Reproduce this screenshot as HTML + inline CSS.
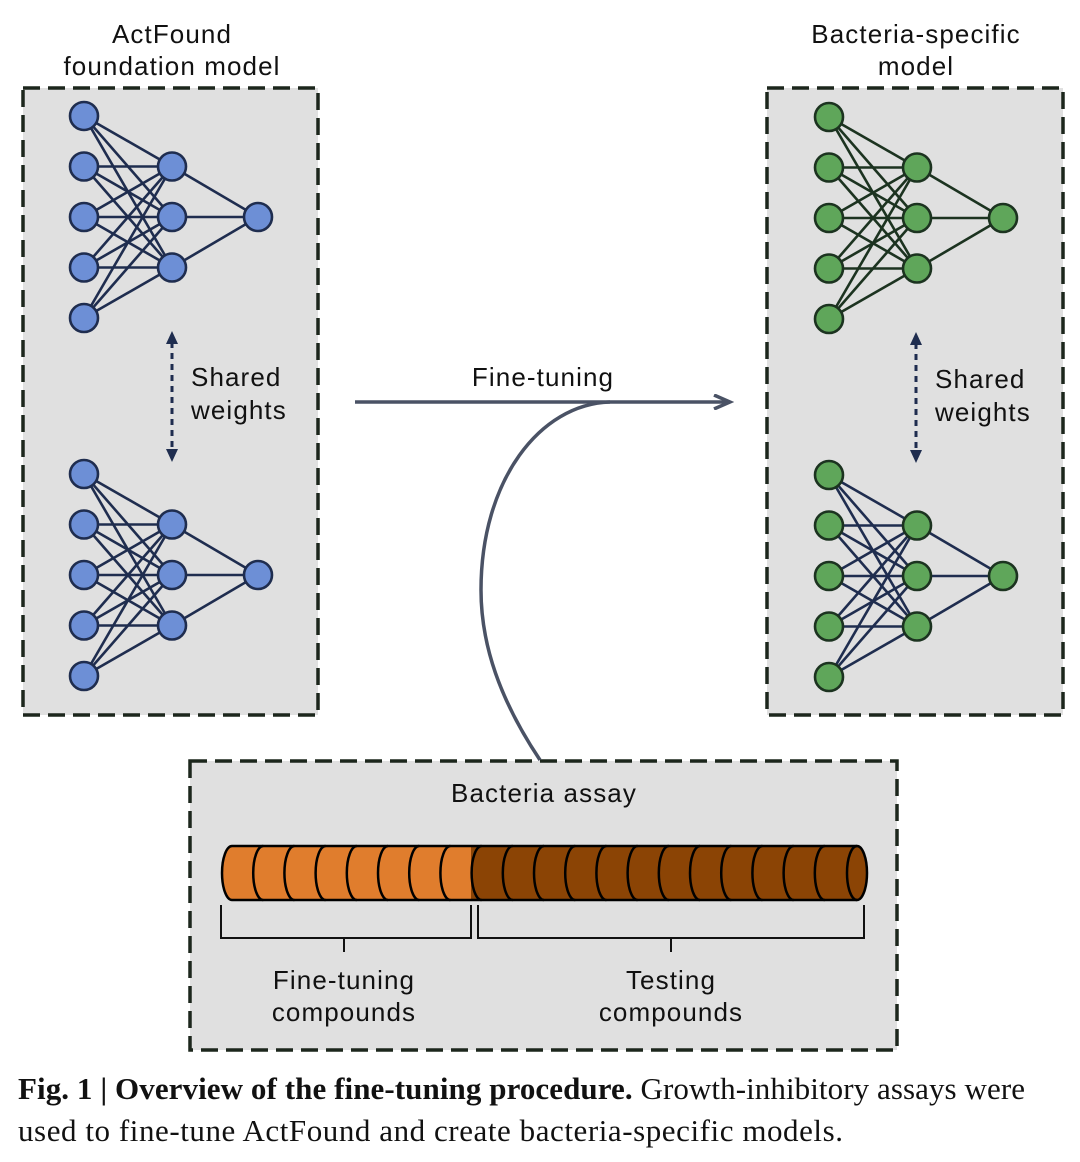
<!DOCTYPE html>
<html><head><meta charset="utf-8"><style>
html,body{margin:0;padding:0;background:#fff;width:1080px;height:1162px;overflow:hidden}
svg{display:block}
.t{font-family:"Liberation Sans",sans-serif;font-size:26px;fill:#111;letter-spacing:1.1px}
.c{font-family:"Liberation Serif",serif;font-size:31px;fill:#111}
</style></head><body>
<svg id="s" width="1080" height="1162" viewBox="0 0 1080 1162" xmlns="http://www.w3.org/2000/svg">
<defs>
<marker id="ah" markerWidth="22" markerHeight="16" refX="18" refY="8" orient="auto" markerUnits="userSpaceOnUse"><path d="M2,1 L18,8 L2,15" fill="none" stroke="#4a5265" stroke-width="3.5"/></marker>
</defs>
<g fill="#e0e0e0" stroke="#1c261c" stroke-width="3.5" stroke-dasharray="17 8">
<rect x="23" y="88" width="295" height="627"/>
<rect x="767" y="88" width="296" height="627"/>
<rect x="190" y="761" width="707" height="289"/>
</g>
<text class="t" x="172" y="43" text-anchor="middle">ActFound</text>
<text class="t" x="172" y="75" text-anchor="middle">foundation model</text>
<text class="t" x="916" y="43" text-anchor="middle">Bacteria-specific</text>
<text class="t" x="916" y="75" text-anchor="middle">model</text>
<g id="nets"></g>
<g stroke="#1f2d4f" stroke-width="3" stroke-dasharray="6 5">
<line x1="172" y1="342" x2="172" y2="452"/>
<line x1="916" y1="343" x2="916" y2="453"/>
</g>
<g fill="#1f2d4f">
<path d="M172,331 l-6,13 h12z"/><path d="M172,462 l-6,-13 h12z"/>
<path d="M916,332 l-6,13 h12z"/><path d="M916,463 l-6,-13 h12z"/>
</g>
<text class="t" x="191" y="386">Shared</text>
<text class="t" x="191" y="419">weights</text>
<text class="t" x="935" y="388">Shared</text>
<text class="t" x="935" y="421">weights</text>
<text class="t" x="543" y="386" text-anchor="middle">Fine-tuning</text>
<line x1="355" y1="402" x2="730" y2="402" stroke="#4a5265" stroke-width="3.5" marker-end="url(#ah)"/>
<path d="M540,760 C500,700 481,645 481,590 C481,480 540,404 610,402" fill="none" stroke="#4a5265" stroke-width="3.5"/>
<text class="t" x="544" y="802" text-anchor="middle">Bacteria assay</text>
<path d="M232,846 H471 V900 H232 A10 27 0 0 1 232,846 Z" fill="#e07d2d"/>
<rect x="471" y="846" width="386" height="54" fill="#8b4405"/>
<ellipse cx="857" cy="873" rx="10" ry="27" fill="#8b4405"/>
<g id="cyl" fill="none" stroke="#000" stroke-width="2.5"></g>
<g fill="none" stroke="#111" stroke-width="2">
<path d="M221,905 V938 H471 V905 M344,938 V952"/>
<path d="M478,905 V938 H864 V905 M671,938 V952"/>
</g>
<text class="t" x="344" y="989" text-anchor="middle">Fine-tuning</text>
<text class="t" x="344" y="1021" text-anchor="middle">compounds</text>
<text class="t" x="671" y="989" text-anchor="middle">Testing</text>
<text class="t" x="671" y="1021" text-anchor="middle">compounds</text>
<text class="c" x="18" y="1099" textLength="1007" lengthAdjust="spacing"><tspan font-weight="bold">Fig. 1 | Overview of the fine-tuning procedure.</tspan> Growth-inhibitory assays were</text>
<text class="c" x="18" y="1141" textLength="825" lengthAdjust="spacing">used to fine-tune ActFound and create bacteria-specific models.</text>
</svg>
<script>
var NS="http://www.w3.org/2000/svg";
function el(p,n,a){var e=document.createElementNS(NS,n);for(var k in a)e.setAttribute(k,a[k]);p.appendChild(e);return e;}
var g=document.getElementById("nets");
function net(x0,y0,fill,stroke,edge){
 var ins=[],hs=[],xi=x0,xh=x0+88,xo=x0+174;
 for(var i=0;i<5;i++)ins.push(y0+i*50.5);
 for(var j=0;j<3;j++)hs.push(y0+50.5+j*50.5);
 var yo=y0+101;
 ins.forEach(function(a){hs.forEach(function(b){el(g,"line",{x1:xi,y1:a,x2:xh,y2:b,stroke:edge,"stroke-width":2.6});});});
 hs.forEach(function(b){el(g,"line",{x1:xh,y1:b,x2:xo,y2:yo,stroke:edge,"stroke-width":2.6});});
 ins.forEach(function(a){el(g,"circle",{cx:xi,cy:a,r:14,fill:fill,stroke:stroke,"stroke-width":2.6});});
 hs.forEach(function(b){el(g,"circle",{cx:xh,cy:b,r:14,fill:fill,stroke:stroke,"stroke-width":2.6});});
 el(g,"circle",{cx:xo,cy:yo,r:14,fill:fill,stroke:stroke,"stroke-width":2.6});
}
net(84,116,"#6d8fd6","#1f2d4f","#1f2d4f");
net(84,474,"#6d8fd6","#1f2d4f","#1f2d4f");
net(829,117,"#5fa65a","#1c3320","#1c3320");
net(829,475,"#5fa65a","#1c3320","#1f2d4f");
var c=document.getElementById("cyl");
el(c,"path",{d:"M232,846 H857 M232,900 H857"});
el(c,"path",{d:"M232,846 A10 27 0 0 0 232,900"});
for(var k=1;k<=20;k++){var x=232+k*31.2;if(x>850)break;el(c,"path",{d:"M"+x+",846 A10 27 0 0 0 "+x+",900"});}
el(c,"ellipse",{cx:857,cy:873,rx:10,ry:27});
</script>
</body></html>
